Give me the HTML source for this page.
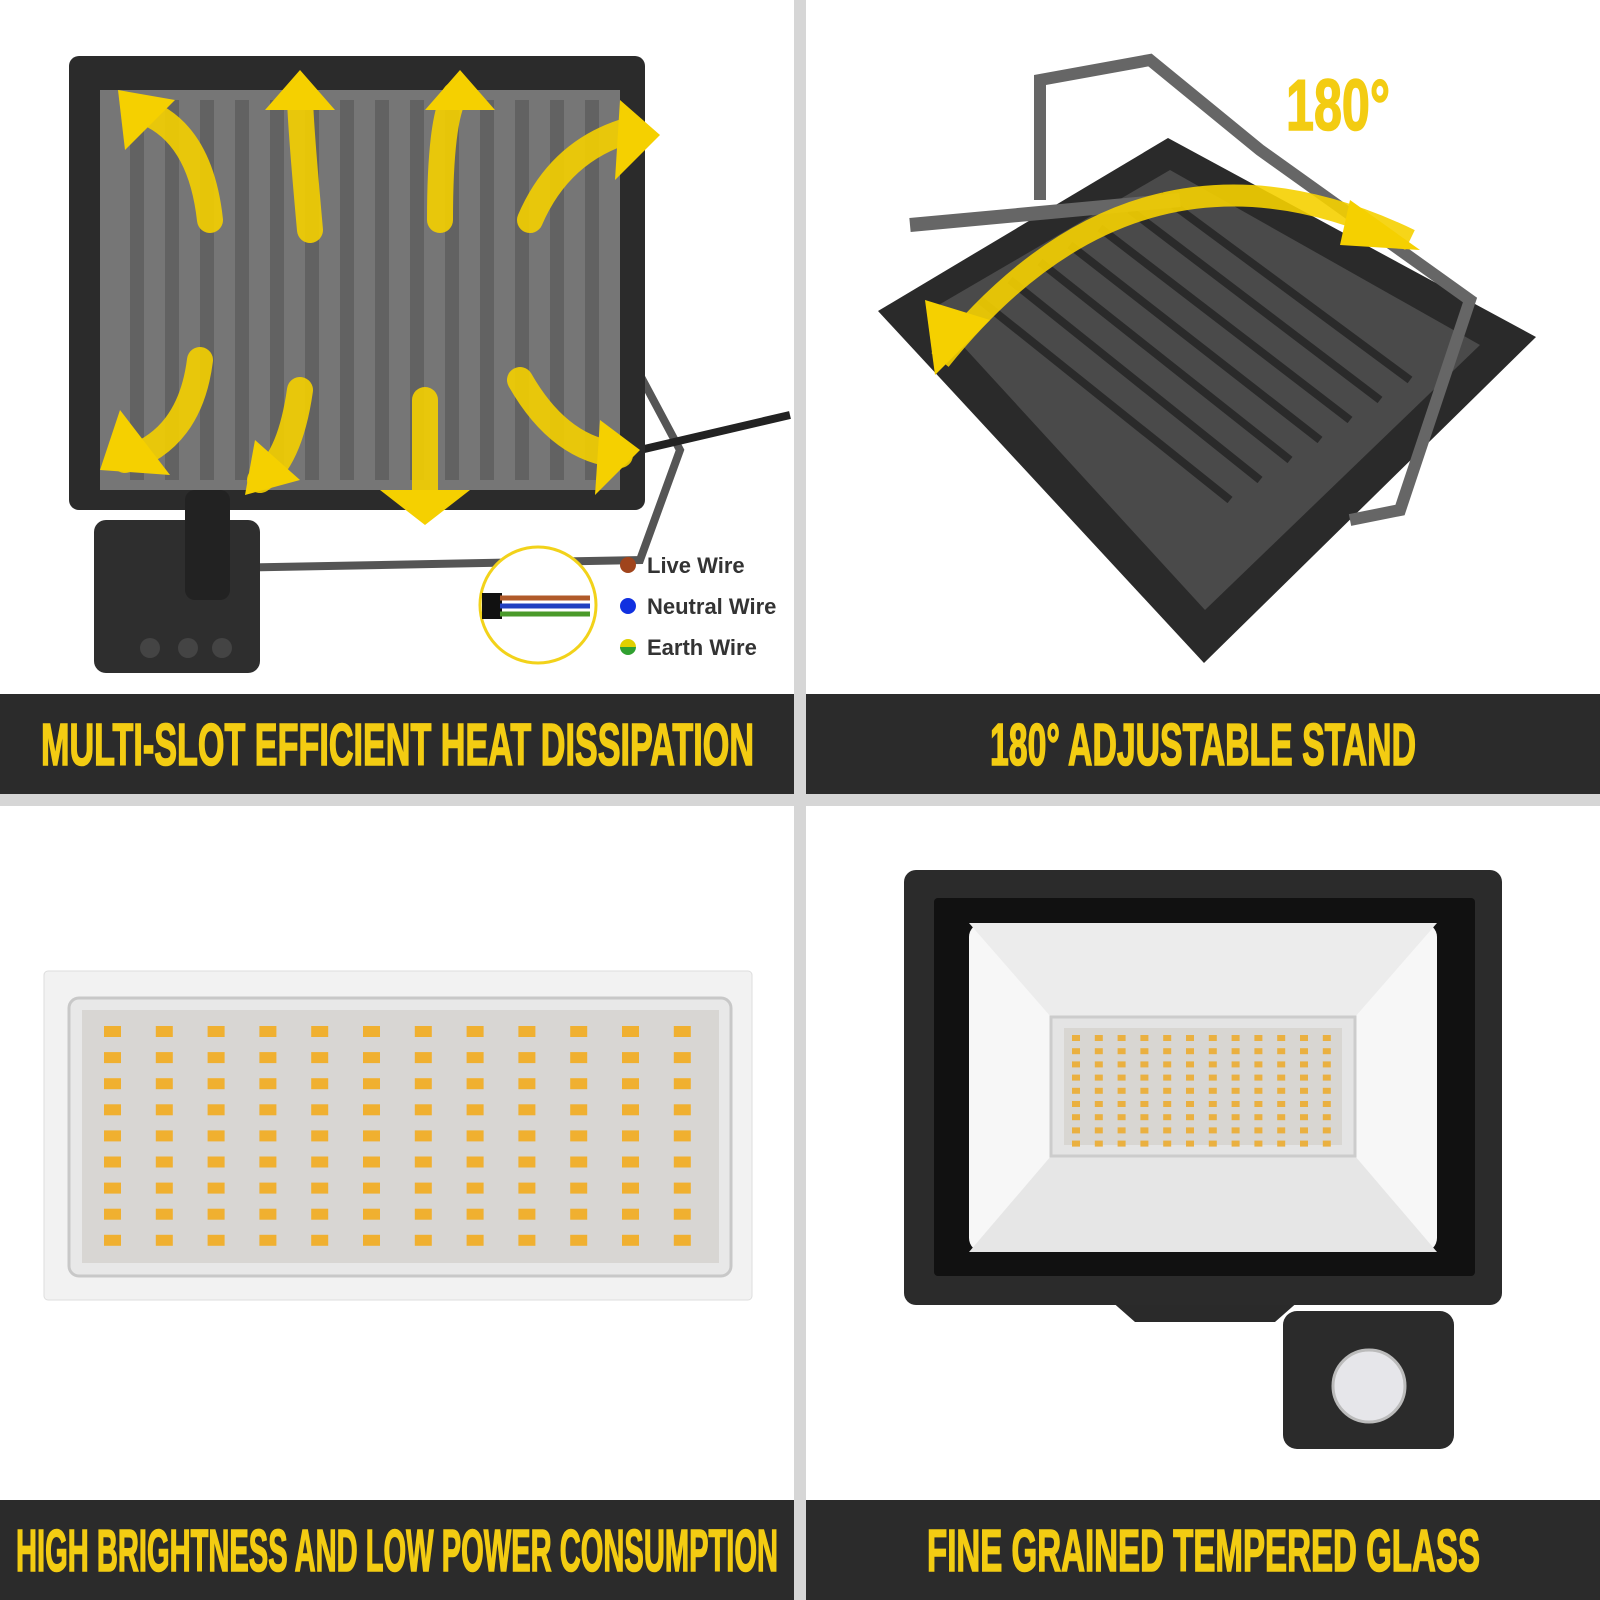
<!DOCTYPE html>
<html><head><meta charset="utf-8"><style>
html,body{margin:0;padding:0;background:#fff;}
svg{display:block;}
.b{font-family:"Liberation Sans Narrow","Liberation Sans",sans-serif;font-weight:bold;fill:#f3cc12;stroke:#f3cc12;stroke-width:1.6;}
.l{font-family:"Liberation Sans",sans-serif;font-weight:bold;fill:#333;font-size:22px;}
</style></head><body>
<svg width="1600" height="1600" viewBox="0 0 1600 1600" xmlns="http://www.w3.org/2000/svg">
<rect width="1600" height="1600" fill="#fff"/>
<rect x="794" y="0" width="12" height="1600" fill="#d6d6d6"/>
<rect x="0" y="794" width="1600" height="12" fill="#d6d6d6"/>
<rect x="0" y="694" width="794" height="100" fill="#2b2b2b"/>
<rect x="806" y="694" width="794" height="100" fill="#2b2b2b"/>
<rect x="0" y="1500" width="794" height="100" fill="#2b2b2b"/>
<rect x="806" y="1500" width="794" height="100" fill="#2b2b2b"/>
<text class="b" x="41" y="765" font-size="59" textLength="713" lengthAdjust="spacingAndGlyphs">MULTI-SLOT EFFICIENT HEAT DISSIPATION</text>
<text class="b" x="990" y="765" font-size="59" textLength="426" lengthAdjust="spacingAndGlyphs">180° ADJUSTABLE STAND</text>
<text class="b" x="16" y="1571" font-size="59" textLength="762" lengthAdjust="spacingAndGlyphs">HIGH BRIGHTNESS AND LOW POWER CONSUMPTION</text>
<text class="b" x="927" y="1571" font-size="59" textLength="553" lengthAdjust="spacingAndGlyphs">FINE GRAINED TEMPERED GLASS</text>

<!-- top-left device -->
<path d="M600 300 L680 450 L640 560 L120 570" fill="none" stroke="#555" stroke-width="8"/>
<path d="M640 450 L790 415" stroke="#222" stroke-width="8"/>
<rect x="69" y="56" width="576" height="454" rx="10" fill="#2b2b2b"/>
<rect x="100" y="90" width="520" height="400" fill="#555"/>
<g fill="#3a3a3a">
<rect x="130" y="100" width="14" height="380"/><rect x="165" y="100" width="14" height="380"/><rect x="200" y="100" width="14" height="380"/><rect x="235" y="100" width="14" height="380"/><rect x="270" y="100" width="14" height="380"/><rect x="305" y="100" width="14" height="380"/><rect x="340" y="100" width="14" height="380"/><rect x="375" y="100" width="14" height="380"/><rect x="410" y="100" width="14" height="380"/><rect x="445" y="100" width="14" height="380"/><rect x="480" y="100" width="14" height="380"/><rect x="515" y="100" width="14" height="380"/><rect x="550" y="100" width="14" height="380"/><rect x="585" y="100" width="14" height="380"/>
</g>
<rect x="100" y="90" width="520" height="400" fill="#ddd" opacity="0.25"/>
<g fill="none" stroke="#f5d000" stroke-width="26" stroke-linecap="round" opacity="0.9">
<path d="M210 220 Q200 130 140 110"/><path d="M310 230 Q300 120 300 95"/><path d="M440 220 Q440 120 455 95"/><path d="M530 220 Q560 150 630 130"/>
<path d="M200 360 Q190 440 125 460"/><path d="M300 390 Q290 460 260 480"/><path d="M425 400 L425 500"/><path d="M520 380 Q560 450 620 455"/>
</g>
<g fill="#f5d000">
<polygon points="118,90 175,100 125,150"/><polygon points="300,70 335,110 265,110"/><polygon points="460,70 495,110 425,110"/><polygon points="660,135 620,100 615,180"/>
<polygon points="100,470 170,475 120,410"/><polygon points="245,495 300,480 255,440"/><polygon points="425,525 470,490 380,490"/><polygon points="640,450 600,420 595,495"/>
</g>
<rect x="94" y="520" width="166" height="153" rx="12" fill="#2e2e2e"/>
<rect x="185" y="490" width="45" height="110" rx="10" fill="#222"/>
<circle cx="150" cy="648" r="10" fill="#444"/><circle cx="188" cy="648" r="10" fill="#444"/><circle cx="222" cy="648" r="10" fill="#444"/>
<circle cx="538" cy="605" r="58" fill="#fff" stroke="#f2d21a" stroke-width="3"/>
<rect x="482" y="593" width="20" height="26" fill="#111"/>
<path d="M500 598 H590" stroke="#b05a2a" stroke-width="5"/><path d="M500 606 H590" stroke="#2040c0" stroke-width="5"/><path d="M500 614 H590" stroke="#4a9a2a" stroke-width="5"/>
<circle cx="628" cy="565" r="8" fill="#a0441c"/><circle cx="628" cy="606" r="8" fill="#1030e0"/>
<path d="M620 647 a8 8 0 0 1 16 0z" fill="#e0d000"/><path d="M620 647 a8 8 0 0 0 16 0z" fill="#30a030"/>
<text class="l" x="647" y="573">Live Wire</text><text class="l" x="647" y="614">Neutral Wire</text><text class="l" x="647" y="655">Earth Wire</text>

<!-- top-right device -->
<polygon points="878,311 1168,138 1536,337 1204,663" fill="#2a2a2a"/>
<polygon points="930,310 1170,170 1480,345 1205,610" fill="#4a4a4a"/>
<g stroke="#2a2a2a" stroke-width="8">
<path d="M980 300 L1230 500"/><path d="M1010 280 L1260 480"/><path d="M1040 262 L1290 460"/><path d="M1070 245 L1320 440"/><path d="M1100 228 L1350 420"/><path d="M1130 210 L1380 400"/><path d="M1160 195 L1410 380"/>
</g>
<path d="M1040 200 L1040 80 L1150 60 L1260 150 L1470 300 L1400 510 L1350 520" fill="none" stroke="#666" stroke-width="12"/>
<path d="M910 225 L1180 200" stroke="#666" stroke-width="14"/>
<path d="M940 360 Q1140 110 1410 240" fill="none" stroke="#f5d000" stroke-width="22" opacity="0.9"/>
<polygon points="935,375 925,300 990,320" fill="#f5d000"/><polygon points="1420,250 1350,200 1340,245" fill="#f5d000"/>
<text class="b" x="1286" y="130" font-size="72" textLength="104" lengthAdjust="spacingAndGlyphs">180°</text>

<!-- bottom-left LED panel -->
<rect x="44" y="971" width="708" height="329" rx="4" fill="#f2f2f2" stroke="#ddd"/>
<rect x="69" y="998" width="662" height="278" rx="10" fill="#e8e8e8" stroke="#c8c8c8" stroke-width="3"/>
<rect x="82" y="1010" width="637" height="253" fill="#d8d6d3"/>
<g fill="#f0b030" id="leds"></g>

<!-- bottom-right floodlight -->
<path d="M1110 1300 L1135 1322 H1275 L1300 1300z" fill="#2a2a2a"/>
<rect x="904" y="870" width="598" height="435" rx="12" fill="#2b2b2b"/>
<rect x="934" y="898" width="541" height="378" rx="4" fill="#111"/>
<rect x="969" y="923" width="468" height="329" rx="14" fill="#f7f7f7"/>
<polygon points="969,923 1437,923 1355,1017 1051,1017" fill="#ececec"/>
<polygon points="969,1252 1437,1252 1355,1156 1051,1156" fill="#e6e6e6"/>
<rect x="1051" y="1017" width="304" height="139" fill="#e4e4e4" stroke="#ccc" stroke-width="3"/>
<rect x="1064" y="1028" width="278" height="117" fill="#d8d6d2"/>
<g fill="#eab040" id="leds2"></g>
<rect x="1283" y="1311" width="171" height="138" rx="14" fill="#2b2b2b"/>
<circle cx="1369" cy="1386" r="36" fill="#e6e6ea" stroke="#bbb" stroke-width="3"/>
</svg>
<script>
(function(){var NS="http://www.w3.org/2000/svg";
function add(g,x,y,w,h){var r=document.createElementNS(NS,"rect");r.setAttribute("x",x);r.setAttribute("y",y);r.setAttribute("width",w);r.setAttribute("height",h);g.appendChild(r);}
var g=document.getElementById('leds');for(var c=0;c<12;c++)for(var r=0;r<9;r++)add(g,104+c*51.8,1026+r*26.1,17,11);
var g2=document.getElementById('leds2');for(var c2=0;c2<12;c2++)for(var r2=0;r2<9;r2++)add(g2,1072+c2*22.8,1035+r2*13.2,8,6);})();
</script>
</body></html>
